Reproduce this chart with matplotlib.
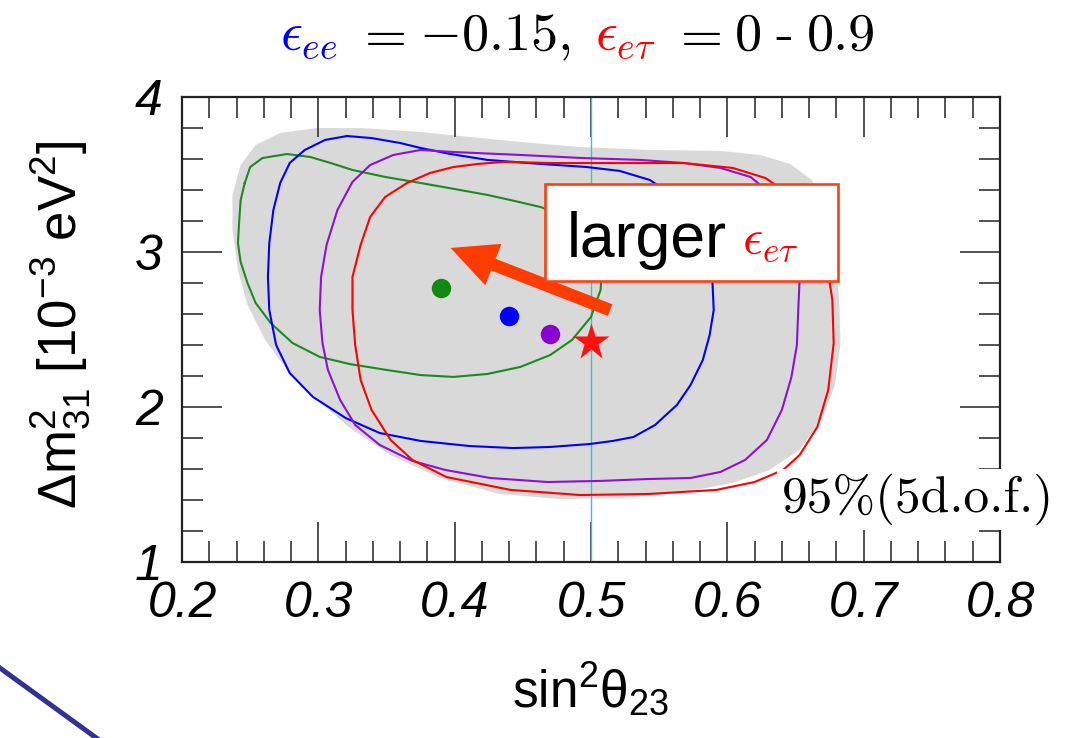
# -*- coding: utf-8 -*-
# allowed region plot: sin^2(theta23) vs dm^2_31 for NSI scan
import matplotlib
matplotlib.use('Agg')
import numpy as np
import matplotlib.pyplot as plt
import matplotlib.patches as mpatches
from matplotlib.lines import Line2D
from matplotlib.ticker import MultipleLocator

plt.rcParams['font.family'] = ['Liberation Sans', 'DejaVu Sans']
plt.rcParams['mathtext.fontset'] = 'custom'
plt.rcParams['mathtext.rm'] = 'Liberation Sans'
plt.rcParams['mathtext.it'] = 'Liberation Sans:italic'
plt.rcParams['mathtext.bf'] = 'Liberation Sans:bold'

################################################################
# data
x_ticks = [0.2, 0.3, 0.4, 0.5, 0.6, 0.7, 0.8]
x_ticklabels = ['0.2', '0.3', '0.4', '0.5', '0.6', '0.7', '0.8']
y_ticks = [1, 2, 3, 4]
y_ticklabels = ['1', '2', '3', '4']

# combined 95% envelope (grey)
env_s23 = [0.299, 0.331, 0.375, 0.411, 0.448, 0.492, 0.543, 0.595, 0.624, 0.646,
           0.662, 0.672, 0.679, 0.682, 0.683, 0.679, 0.669, 0.653, 0.631, 0.604,
           0.565, 0.521, 0.477, 0.433, 0.389, 0.353, 0.323, 0.298, 0.277, 0.261,
           0.248, 0.241, 0.237, 0.237, 0.243, 0.254, 0.272]
env_dm = [3.80, 3.80, 3.774, 3.742, 3.710, 3.677, 3.658, 3.652, 3.626, 3.568,
          3.465, 3.271, 3.013, 2.690, 2.413, 2.142, 1.916, 1.723, 1.594, 1.510,
          1.445, 1.413, 1.406, 1.439, 1.542, 1.690, 1.865, 2.058, 2.239, 2.432,
          2.658, 2.884, 3.142, 3.368, 3.561, 3.690, 3.768]

# eps_et = 0.9 (green)
green_s23 = [0.246, 0.250, 0.259, 0.277, 0.294, 0.309, 0.325, 0.349, 0.375, 0.400,
             0.424, 0.444, 0.463, 0.481, 0.496, 0.505, 0.508, 0.507, 0.500, 0.486,
             0.470, 0.448, 0.424, 0.399, 0.375, 0.350, 0.323, 0.301, 0.281, 0.265,
             0.254, 0.248, 0.243, 0.241, 0.242, 0.243]
green_dm = [3.445, 3.548, 3.606, 3.632, 3.613, 3.574, 3.529, 3.484, 3.445, 3.406,
            3.368, 3.329, 3.290, 3.232, 3.142, 3.013, 2.884, 2.755, 2.581, 2.432,
            2.335, 2.258, 2.213, 2.194, 2.206, 2.239, 2.277, 2.323, 2.413, 2.542,
            2.671, 2.800, 2.935, 3.058, 3.206, 3.335]

# blue
blue_s23 = [0.321, 0.339, 0.360, 0.375, 0.397, 0.424, 0.463, 0.497, 0.521, 0.543,
            0.562, 0.576, 0.585, 0.589, 0.590, 0.587, 0.582, 0.573, 0.563, 0.547,
            0.531, 0.516, 0.499, 0.470, 0.443, 0.411, 0.375, 0.345, 0.320, 0.296,
            0.279, 0.269, 0.264, 0.263, 0.264, 0.267, 0.272, 0.279, 0.290, 0.305]
blue_dm = [3.748, 3.735, 3.703, 3.671, 3.632, 3.594, 3.568, 3.548, 3.523, 3.465,
           3.355, 3.194, 3.013, 2.819, 2.626, 2.465, 2.303, 2.142, 2.013, 1.884,
           1.806, 1.781, 1.761, 1.742, 1.735, 1.748, 1.781, 1.832, 1.929, 2.065,
           2.219, 2.400, 2.626, 2.839, 3.058, 3.271, 3.445, 3.574, 3.658, 3.723]

# purple
purple_s23 = [0.375, 0.399, 0.448, 0.494, 0.536, 0.568, 0.595, 0.617, 0.633, 0.645,
              0.651, 0.653, 0.652, 0.651, 0.647, 0.640, 0.629, 0.613, 0.595, 0.573,
              0.541, 0.507, 0.468, 0.426, 0.393, 0.369, 0.345, 0.327, 0.316, 0.307,
              0.303, 0.301, 0.302, 0.306, 0.314, 0.325, 0.338, 0.355]
purple_dm = [3.658, 3.645, 3.626, 3.606, 3.594, 3.574, 3.542, 3.484, 3.368, 3.206,
             3.013, 2.819, 2.626, 2.400, 2.194, 1.981, 1.787, 1.658, 1.581, 1.542,
             1.535, 1.523, 1.516, 1.542, 1.594, 1.652, 1.755, 1.884, 2.045, 2.239,
             2.413, 2.626, 2.839, 3.045, 3.271, 3.452, 3.561, 3.626]

# eps_et = 0 (red)
red_s23 = [0.436, 0.470, 0.507, 0.568, 0.604, 0.628, 0.646, 0.662, 0.672, 0.677,
           0.678, 0.674, 0.666, 0.653, 0.641, 0.620, 0.592, 0.543, 0.492, 0.441,
           0.394, 0.369, 0.353, 0.339, 0.331, 0.327, 0.325, 0.325, 0.331, 0.338,
           0.349, 0.365, 0.382, 0.399, 0.417]
red_dm = [3.581, 3.574, 3.574, 3.574, 3.542, 3.477, 3.368, 3.194, 2.981, 2.690,
          2.413, 2.110, 1.871, 1.690, 1.594, 1.516, 1.465, 1.439, 1.432, 1.465,
          1.548, 1.658, 1.787, 1.981, 2.174, 2.400, 2.626, 2.839, 3.045, 3.226,
          3.355, 3.445, 3.510, 3.548, 3.568]

# best fit points
bf_s23 = [0.390, 0.440, 0.470]
bf_dm = [2.77, 2.59, 2.47]
bf_colors = ['#118a11', '#0000ff', '#8a00d4']
star_s23 = 0.50
star_dm = 2.42

# arrow: from star region towards growing eps_et
arrow_from = (0.514, 2.625)
arrow_to = (0.397, 3.026)

################################################################
fig = plt.figure(figsize=(10.79, 7.38), dpi=100)
ax = fig.add_axes([0.1687, 0.2385, 0.7581, 0.6301])

ax.fill(env_s23, env_dm, color='#d9d9d9', lw=0, zorder=1)
ax.axvline(0.5, color='#45c0c0', lw=1.0, zorder=2)

contours = [(green_s23, green_dm, '#1e8a1e'),
            (blue_s23, blue_dm, '#0000ff'),
            (purple_s23, purple_dm, '#8c10d8'),
            (red_s23, red_dm, '#ff0000')]
for xs, ys, c in contours:
    ax.plot(np.r_[xs, xs[:1]], np.r_[ys, ys[:1]], color=c, lw=1.5,
            solid_joinstyle='round', zorder=3)

for xx, yy, c in zip(bf_s23, bf_dm, bf_colors):
    ax.plot(xx, yy, 'o', color=c, ms=14, mec='none', zorder=4)
ax.plot(star_s23, star_dm, '*', color='#ff1010', ms=28, mec='none', zorder=4)

ax.annotate('', xy=arrow_to, xytext=arrow_from,
            arrowprops=dict(arrowstyle='simple,head_length=33,head_width=32,tail_width=9',
                            mutation_scale=1, fc='#ff3c00', ec='none',
                            shrinkA=0, shrinkB=0), zorder=6)

ax.set_xlim(0.2, 0.8)
ax.set_ylim(1, 4)
ax.set_xticks(x_ticks)
ax.set_xticklabels(x_ticklabels, fontstyle='italic')
ax.set_yticks(y_ticks)
ax.set_yticklabels(y_ticklabels, fontstyle='italic')
ax.xaxis.set_minor_locator(MultipleLocator(0.02))
ax.yaxis.set_minor_locator(MultipleLocator(0.2))
ax.tick_params(which='major', direction='in', length=29, width=1.2, color='#333333',
               top=True, right=True, labelsize=36, pad=14)
ax.tick_params(which='minor', direction='in', length=15, width=1.2, color='#333333',
               top=True, right=True)
for sp in ax.spines.values():
    sp.set_linewidth(1.6)
    sp.set_color('#222222')

# axis labels
fig.text(0.0556, 0.5596, r'$\Delta\mathrm{m}^2_{31}\ [10^{-3}\ \mathrm{eV}^2]$',
         rotation=90, ha='center', va='center', fontsize=38)
fig.text(0.5477, 0.0407, r'$\mathrm{sin}^2\mathrm{\theta}_{23}$',
         ha='center', va='baseline', fontsize=37)

# title in coloured pieces, laid out left to right
rend = fig.canvas.get_renderer()
title_parts = [(r'$\epsilon_{ee}$', '#0000ff', 'm', 17),
               (r'$=$', 'black', 'm', 14),
               (r'$-0.15,$', 'black', 'm', 24),
               (r'$\epsilon_{e\tau}$', '#ff0000', 'm', 15),
               (r'$=$', 'black', 'm', 14),
               ('0', 'black', 't', 13),
               ('-', 'black', 't', 13),
               ('0.9', 'black', 't', 0)]
xpos = 280
for s, c, kind, g in title_parts:
    if kind == 't':
        t = fig.text(xpos / 1079, 1 - 50 / 738, s, color=c, fontsize=39,
                     family='cmr10', va='baseline')
    else:
        t = fig.text(xpos / 1079, 1 - 50 / 738, s, color=c, fontsize=39,
                     math_fontfamily='cm', va='baseline')
    xpos += t.get_window_extent(rend).width + g

# "95%(5d.o.f.)"
fig.text(1054 / 1079, 1 - 512 / 738, '95%(5d.o.f.)', fontsize=37, family='cmr10',
         ha='right', va='baseline', zorder=5,
         bbox=dict(boxstyle='square,pad=0.1', fc='white', ec='none'))

# annotation box
box = mpatches.Rectangle((545 / 1079, 1 - 281 / 738), (838 - 545) / 1079, (281 - 184) / 738,
                         transform=fig.transFigure, fc='white', ec='#ff4010', lw=1.9, zorder=7)
fig.add_artist(box)
fig.text(567 / 1079, 1 - 257 / 738, 'larger', fontsize=45, va='baseline', zorder=8)
fig.text(742 / 1079, 1 - 253 / 738, r'$\epsilon_{e\tau}$', fontsize=36, color='#ff0000',
         math_fontfamily='cm', va='baseline', zorder=8)

# slide decoration line
fig.add_artist(Line2D([-0.0046, 0.0944], [0.0997, -0.0054], transform=fig.transFigure,
                      color='#323296', lw=3.6))

fig.savefig('out.png', dpi=100)
print('### Done!! ###')
